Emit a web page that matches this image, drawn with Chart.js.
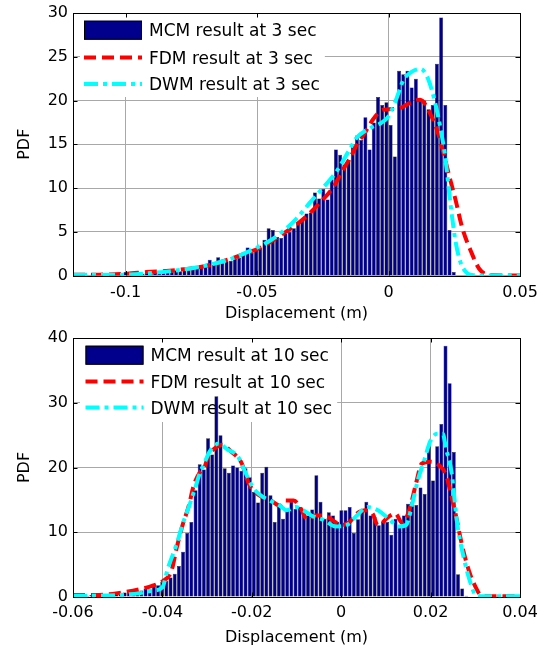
<!DOCTYPE html>
<html>
<head>
<meta charset="utf-8">
<script src="https://cdn.jsdelivr.net/npm/chart.js@4.4.1/dist/chart.umd.min.js"></script>
<style>
html,body{margin:0;padding:0;background:#fff;}
canvas{display:block;}
</style>
</head>
<body>
<canvas id="c1" width="549" height="325"></canvas>
<canvas id="c2" width="549" height="324"></canvas>
<script>
// ---------------- DATA : top panel (t = 3 s) ----------------
const topBinStart = -0.116;
const topBinWidth = 0.0016;
const topMCM = [
  0.1, 0, 0.1, 0, 0, 0.1, 0, 0.1, 0.1, 0.2,
  0.4, 0.1, 0.1, 0.2, 0.2, 0.3, 0.2, 0.3, 0.4, 0.3,
  0.5, 0.4, 0.6, 0.5, 0.7, 0.6, 0.8, 0.9, 1.0, 1.1,
  1.8, 1.2, 2.1, 1.4, 1.6, 1.7, 1.9, 2.0, 2.4, 3.2,
  2.6, 2.9, 3.1, 4.1, 5.4, 5.2, 4.4, 4.3, 4.8, 5.0,
  5.4, 5.9, 6.5, 7.1, 7.2, 9.5, 8.8, 9.9, 8.7, 11.0,
  14.4, 13.8, 12.7, 13.2, 15.0, 16.0, 15.5, 18.1, 14.4, 17.5,
  20.4, 19.5, 19.8, 17.2, 13.6, 23.4, 23.0, 23.4, 21.5, 22.5,
  20.0, 20.0, 19.0, 19.5, 24.2, 29.5, 19.5, 5.2, 0.4
];
const topFdmX = [-0.12, -0.11, -0.10, -0.092, -0.0813, -0.068, -0.0546, -0.0479, -0.041, -0.033, -0.0265, -0.021, -0.0175, -0.0145, -0.012, -0.009, -0.006, -0.003, 0, 0.004, 0.008, 0.012, 0.0163, 0.019, 0.0214, 0.0229, 0.0256, 0.028, 0.0317, 0.0344, 0.037, 0.04, 0.045, 0.05];
const topFdmY = [0.1, 0.1, 0.2, 0.4, 0.6, 1.2, 2.5, 3.3, 4.6, 6.3, 8.2, 10.1, 12.0, 13.5, 15.0, 16.3, 17.8, 18.8, 19.0, 19.1, 19.7, 20.1, 18.2, 16.1, 13.4, 11.6, 8.5, 5.5, 2.5, 0.8, 0.15, 0.02, 0, 0];
const topDwmX = [-0.12, -0.11, -0.10, -0.09, -0.08, -0.07, -0.06, -0.055, -0.05, -0.045, -0.04, -0.035, -0.03, -0.025, -0.02, -0.015, -0.012, -0.009, -0.006, -0.003, 0, 0.003, 0.0056, 0.0089, 0.0122, 0.015, 0.0176, 0.0202, 0.0214, 0.0237, 0.0256, 0.0275, 0.0298, 0.0317, 0.035, 0.04, 0.045, 0.05];
const topDwmY = [0.1, 0.1, 0.1, 0.3, 0.6, 1.1, 1.9, 2.5, 3.2, 4.0, 5.1, 6.5, 8.3, 10.0, 11.8, 14.3, 15.8, 16.5, 17.0, 17.4, 18.2, 20.2, 22.3, 23.3, 23.6, 22.5, 19.9, 16.1, 13.9, 7.8, 3.7, 1.4, 0.3, 0.05, 0, 0, 0, 0];
const topXTicks = [-0.1, -0.05, 0, 0.05];
const topYTicks = [0, 5, 10, 15, 20, 25, 30];
const topLabels = ['MCM result at 3 sec', 'FDM result at 3 sec', 'DWM result at 3 sec'];

// ---------------- DATA : bottom panel (t = 10 s) ----------------
const botBinStart = -0.05775;
const botBinWidth = 0.000932;
const botMCM = [
  0.3, 0.2, 0.3, 0.4, 0.3, 0.5, 0.4, 0.5, 0.6, 0.5,
  0.7, 0.8, 0.7, 0.9, 1.0, 1.3, 1.2, 2.0, 1.8, 2.3,
  2.5, 3.0, 3.6, 4.8, 7.0, 9.9, 11.6, 16.5, 20.5, 19.7,
  24.5, 22.0, 31.0, 25.0, 19.9, 19.2, 20.3, 20.0, 19.5, 19.9,
  18.5, 16.2, 14.6, 19.2, 20.1, 15.7, 11.6, 14.4, 12.1, 13.6,
  14.7, 13.6, 13.9, 13.1, 12.6, 13.5, 18.8, 14.7, 12.1, 13.1,
  12.6, 11.6, 13.4, 13.4, 13.9, 9.9, 12.0, 13.6, 14.7, 12.6,
  12.4, 11.1, 11.6, 11.6, 9.6, 12.1, 11.1, 12.6, 14.4, 14.7,
  14.2, 16.9, 15.9, 23.3, 18.0, 23.3, 26.7, 38.8, 33.0, 22.4,
  3.5, 1.3, 0.2
];
const botFdmX = [-0.06, -0.055, -0.05, -0.045, -0.042, -0.04, -0.038, -0.0368, -0.0357, -0.0341, -0.033, -0.0317, -0.0306, -0.0298, -0.0282, -0.0266, -0.0247, -0.0223, -0.0208, -0.0196, -0.0176, -0.0157, -0.0137, -0.0125, -0.0106, -0.009, -0.0075, -0.0059, -0.0039, -0.002, 0, 0.0019, 0.0035, 0.0055, 0.007, 0.0082, 0.0106, 0.0121, 0.0137, 0.0153, 0.0168, 0.018, 0.02, 0.0219, 0.0235, 0.0245, 0.0255, 0.027, 0.0286, 0.0301, 0.0312, 0.033, 0.036, 0.04];
const botFdmY = [0.3, 0.3, 0.6, 1.2, 1.8, 2.4, 4.0, 7.6, 10.6, 14.1, 17.2, 19.2, 20.0, 21.7, 23.0, 23.5, 22.5, 20.7, 17.7, 16.4, 15.4, 14.9, 14.1, 14.9, 14.9, 13.6, 11.9, 12.6, 12.6, 11.9, 11.1, 11.6, 12.9, 13.4, 12.9, 11.1, 12.4, 12.9, 11.4, 13.6, 17.7, 20.6, 20.9, 20.3, 18.8, 16.0, 13.1, 8.1, 4.0, 1.5, 0.3, 0.1, 0.1, 0.1];
const botDwmX = [-0.06, -0.055, -0.05, -0.045, -0.042, -0.040, -0.0388, -0.037, -0.0353, -0.0337, -0.0325, -0.0317, -0.0306, -0.0294, -0.0274, -0.0255, -0.0231, -0.0216, -0.02, -0.0184, -0.016, -0.0137, -0.0122, -0.0102, -0.0085, -0.0067, -0.0039, -0.0012, 0.0012, 0.0035, 0.0059, 0.0082, 0.0106, 0.0129, 0.0145, 0.016, 0.0172, 0.0184, 0.02, 0.0215, 0.0227, 0.0235, 0.0247, 0.0259, 0.0274, 0.029, 0.0301, 0.032, 0.036, 0.04];
const botDwmY = [0.2, 0.2, 0.3, 0.6, 1.0, 1.5, 4.4, 7.8, 11.6, 14.7, 17.2, 19.0, 20.7, 22.5, 23.7, 22.8, 21.7, 19.5, 17.2, 15.9, 14.9, 14.1, 13.4, 13.9, 13.4, 12.6, 11.9, 10.9, 11.1, 12.6, 13.9, 13.4, 12.1, 10.9, 11.1, 14.7, 18.2, 20.7, 24.2, 25.2, 25.2, 22.8, 19.2, 11.6, 6.1, 2.0, 0.3, 0.1, 0.1, 0.1];
const botXTicks = [-0.06, -0.04, -0.02, 0, 0.02, 0.04];
const botYTicks = [0, 10, 20, 30, 40];
const botLabels = ['MCM result at 10 sec', 'FDM result at 10 sec', 'DWM result at 10 sec'];

// ---------------- helpers ----------------
const FONT = 'DejaVu Sans';
const BAR_COLOR = 'rgb(0,0,140)';
const FDM_COLOR = 'rgb(255,0,0)';
const DWM_COLOR = 'rgb(0,255,255)';
const GRID_COLOR = '#a8a8a8';

function histPoints(start, width, heights) {
  return heights.map((h, i) => ({ x: start + i * width, y: h }));
}
function linePoints(xs, ys) {
  return xs.map((x, i) => ({ x: x, y: ys[i] }));
}
function fmt(v) { return String(+Number(v).toFixed(4)); }
function al(v) { return Math.round(v) + 0.5; }

const matlabPlugin = {
  id: 'matlab',
  beforeDatasetsDraw(chart, args, opts) {
    const ctx = chart.ctx;
    const L = opts.legend;
    const ds = chart.data.datasets;
    const items = [ds[0], ds[1], ds[2]];
    ctx.save();
    ctx.font = '17px "' + FONT + '"';
    let maxW = 0;
    items.forEach(d => { maxW = Math.max(maxW, ctx.measureText(d.label).width); });
    ctx.fillStyle = '#ffffff';
    ctx.fillRect(L.boxLeft, L.boxTop, L.textX + maxW + 5 - L.boxLeft, L.boxBottom - L.boxTop);
    items.forEach((d, k) => {
      const y = L.rows[k];
      if (d.type === 'bar') {
        ctx.fillStyle = d.backgroundColor;
        ctx.fillRect(L.swL, y - 11, L.swR - L.swL, 19);
        ctx.strokeStyle = '#000';
        ctx.lineWidth = 1;
        ctx.strokeRect(L.swL + 0.5, y - 10.5, L.swR - L.swL - 1, 18);
      } else {
        ctx.strokeStyle = d.borderColor;
        ctx.lineWidth = d.borderWidth;
        ctx.setLineDash(d.borderDash);
        ctx.beginPath();
        ctx.moveTo(L.swL, y - 2);
        ctx.lineTo(L.swR, y - 2);
        ctx.stroke();
        ctx.setLineDash([]);
      }
      ctx.fillStyle = '#000';
      ctx.textAlign = 'left';
      ctx.textBaseline = 'middle';
      ctx.fillText(d.label, L.textX, y);
    });
    ctx.restore();
  },
  afterDraw(chart) {
    const ctx = chart.ctx;
    const a = chart.chartArea;
    const xs = chart.scales.x, ys = chart.scales.y;
    const tl = 4.5;
    ctx.save();
    ctx.strokeStyle = '#000';
    ctx.lineWidth = 1;
    ctx.beginPath();
    xs.ticks.forEach(t => {
      const x = al(xs.getPixelForValue(t.value));
      ctx.moveTo(x, a.bottom); ctx.lineTo(x, a.bottom - tl);
      ctx.moveTo(x, a.top); ctx.lineTo(x, a.top + tl);
    });
    ys.ticks.forEach(t => {
      const y = al(ys.getPixelForValue(t.value));
      ctx.moveTo(a.left, y); ctx.lineTo(a.left + tl, y);
      ctx.moveTo(a.right, y); ctx.lineTo(a.right - tl, y);
    });
    ctx.stroke();
    const l = al(a.left), r = al(a.right), tp = al(a.top), b = al(a.bottom);
    ctx.strokeRect(l, tp, r - l, b - tp);
    ctx.restore();
  }
};

function makeChart(id, P) {
  const ctx = document.getElementById(id).getContext('2d');
  return new Chart(ctx, {
    type: 'bar',
    data: {
      datasets: [
        {
          type: 'bar', label: P.labels[0],
          data: histPoints(P.binStart, P.binWidth, P.mcm),
          backgroundColor: BAR_COLOR, borderColor: '#111', borderWidth: 0.5,
          barPercentage: 0.93, categoryPercentage: 1.0, order: 3
        },
        {
          type: 'line', label: P.labels[1],
          data: linePoints(P.fdmX, P.fdmY),
          borderColor: FDM_COLOR, borderWidth: 4, borderDash: [12, 6],
          pointRadius: 0, fill: false, cubicInterpolationMode: 'monotone', order: 2
        },
        {
          type: 'line', label: P.labels[2],
          data: linePoints(P.dwmX, P.dwmY),
          borderColor: DWM_COLOR, borderWidth: 4, borderDash: [14, 5, 4, 5],
          pointRadius: 0, fill: false, cubicInterpolationMode: 'monotone', order: 1
        }
      ]
    },
    options: {
      responsive: false,
      animation: false,
      devicePixelRatio: 1,
      layout: { padding: { left: 0, right: 29, top: P.padTop, bottom: 0 } },
      plugins: {
        legend: { display: false },
        tooltip: { enabled: false },
        matlab: { legend: P.legend }
      },
      scales: {
        x: {
          type: 'linear', min: P.xMin, max: P.xMax, offset: false,
          afterBuildTicks: (s) => { s.ticks = P.xTicks.map(v => ({ value: v })); },
          afterFit: (s) => { s.height = P.xAxisH; },
          grid: { color: GRID_COLOR, lineWidth: 1, drawTicks: false, offset: false },
          border: { display: false },
          ticks: {
            color: '#000', padding: P.xTickPad, maxRotation: 0, autoSkip: false,
            font: { family: FONT, size: 16, lineHeight: 1.2 },
            callback: (v) => fmt(v)
          },
          title: {
            display: true, text: 'Displacement (m)', color: '#000',
            font: { family: FONT, size: 16, lineHeight: 1.2 },
            padding: { top: 0, bottom: P.xTitlePad }
          }
        },
        y: {
          type: 'linear', min: P.yMin, max: P.yMax,
          afterBuildTicks: (s) => { s.ticks = P.yTicks.map(v => ({ value: v })); },
          afterFit: (s) => { s.width = 73; },
          grid: { color: GRID_COLOR, lineWidth: 1, drawTicks: false, offset: false },
          border: { display: false },
          ticks: {
            color: '#000', padding: 5,
            font: { family: FONT, size: 16, lineHeight: 1 },
            callback: (v) => fmt(v)
          },
          title: {
            display: true, text: 'PDF', color: '#000',
            font: { family: FONT, size: 16, lineHeight: 1.2 },
            padding: { top: 15, bottom: 0 }
          }
        }
      }
    },
    plugins: [matlabPlugin]
  });
}

makeChart('c1', {
  labels: topLabels, binStart: topBinStart, binWidth: topBinWidth, mcm: topMCM,
  fdmX: topFdmX, fdmY: topFdmY, dwmX: topDwmX, dwmY: topDwmY,
  xMin: -0.12, xMax: 0.05, yMin: 0, yMax: 30, xTicks: topXTicks, yTicks: topYTicks,
  padTop: 10.5, xAxisH: 49.5, xTickPad: 7.4, xTitlePad: 1.4,
  legend: { boxLeft: 80, boxTop: 12, boxBottom: 97, swL: 84, swR: 142, textX: 149, rows: [31.7, 59.5, 86] }
});
makeChart('c2', {
  labels: botLabels, binStart: botBinStart, binWidth: botBinWidth, mcm: botMCM,
  fdmX: botFdmX, fdmY: botFdmY, dwmX: botDwmX, dwmY: botDwmY,
  xMin: -0.06, xMax: 0.04, yMin: 0, yMax: 40, xTicks: botXTicks, yTicks: botYTicks,
  padTop: 8, xAxisH: 52, xTickPad: 5.9, xTitlePad: 1.9,
  legend: { boxLeft: 80, boxTop: 9, boxBottom: 97, swL: 85.5, swR: 143.5, textX: 150.5, rows: [31.7, 58.5, 84.5] }
});
</script>
</body>
</html>
